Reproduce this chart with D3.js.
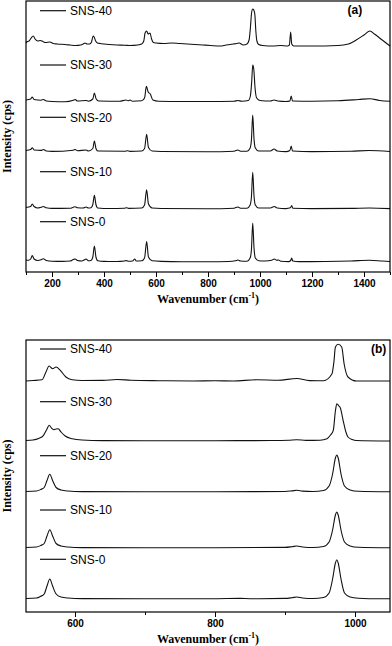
<!DOCTYPE html>
<html>
<head>
<meta charset="utf-8">
<script src="https://cdnjs.cloudflare.com/ajax/libs/d3/7.8.5/d3.min.js"></script>
<style>
	body { margin: 0; background: #fff; }
	svg { display: block; }
	.tick text { font-family: "Liberation Sans", Arial, sans-serif; font-weight: bold; font-size: 10px; fill: #000; }
	.tick line, .domain { stroke: #000; }
</style>
</head>
<body>
<div id="chart"></div>
<script>
//Dados
var labels = ["SNS-0", "SNS-10", "SNS-20", "SNS-30", "SNS-40"];

//Painel (a): offsets empilhados (mesma unidade da intensidade)
var offsetsA = [10, 63, 120, 170, 226];
var ticksA = [200, 400, 600, 800, 1000, 1200, 1400];
var minorA = [100, 300, 500, 700, 900, 1100, 1300, 1500];

var a_sns0 = [[100,2],[110,1.8],[118,3],[124,6.5],[131,3],[145,1.5],[158,2.2],[167,3.2],[178,1.5],[200,0.8],[240,0.6],[270,1],[282,2.5],[289,3],[298,1.5],[315,1],[325,2.2],[331,3],[340,1.3],[350,1.5],[357,5],[363,16],[369,5],[376,1.2],[400,0.6],[450,0.5],[478,1],[486,1.4],[495,0.8],[510,1],[518,3],[524,1],[545,1.2],[556,4],[564,20.5],[571,5],[585,1.2],[620,0.6],[700,0.3],[800,0.3],[880,0.5],[905,1.2],[915,2],[925,1],[950,0.8],[962,4],[967,12],[972,39],[977,14],[982,4],[995,1.2],[1020,1],[1045,1.8],[1055,3],[1064,1.8],[1071,2],[1080,0.8],[1110,0.4],[1118,1.5],[1122,4],[1126,1],[1150,0.4],[1250,0.5],[1350,1],[1420,1.8],[1470,1],[1500,0.5]];
var a_sns10 = [[100,1.5],[118,2.5],[124,5],[131,2.5],[145,1],[158,1.8],[167,2.5],[178,1.2],[200,0.6],[270,0.8],[282,1.8],[289,2.2],[298,1.2],[320,1],[331,2],[340,1],[350,1.2],[357,4.5],[363,13.7],[369,4.5],[376,1],[420,0.5],[478,0.8],[486,1.2],[495,0.6],[545,1],[556,4],[564,19.3],[571,5],[585,1],[620,0.5],[800,0.3],[900,0.8],[915,2],[925,0.8],[950,0.7],[962,4],[967,12],[972,36.7],[977,13],[982,4],[995,1],[1040,1],[1055,2.5],[1066,1],[1100,0.4],[1117,1.2],[1122,3.5],[1126,0.8],[1200,0.4],[1350,0.6],[1420,1],[1500,0.4]];
var a_sns20 = [[100,1.5],[118,2.5],[124,4.3],[131,2],[158,1.6],[167,2.5],[178,1],[200,0.6],[282,1.8],[289,2.5],[298,1.2],[331,2],[340,1],[357,3.5],[363,11],[369,3.5],[376,1],[480,0.8],[490,1.2],[500,0.6],[545,1],[556,3.5],[564,17.7],[571,4.5],[585,1],[620,0.5],[800,0.3],[900,0.8],[915,2],[925,0.8],[950,0.7],[962,4],[967,12],[972,37],[977,13],[982,4],[995,1],[1040,1],[1054,3],[1066,1],[1100,0.4],[1115,1.5],[1120,6],[1125,1],[1200,0.4],[1350,0.8],[1420,1.5],[1500,0.5]];
var a_sns30 = [[100,2],[118,3],[124,5],[131,2.5],[158,1.8],[167,2.5],[178,1],[200,0.5],[250,0.3],[282,1.8],[289,2.5],[298,1],[331,1.5],[340,0.8],[357,3],[363,9],[370,3],[380,1],[460,0.8],[485,2],[492,1.2],[500,2],[510,0.8],[545,1.2],[556,4],[563,15.7],[570,10],[578,8],[588,2],[610,0.8],[700,0.5],[800,0.5],[900,0.8],[915,1.5],[930,0.8],[955,1.5],[963,6],[968,20],[972,37],[976,33],[981,14],[987,4],[1000,1.5],[1040,1],[1054,2],[1068,1],[1100,0.5],[1115,1],[1120,6],[1125,1],[1200,0.8],[1300,1.2],[1380,2.5],[1423,3.3],[1460,1.5],[1500,0.8]];
var a_sns40 = [[100,3],[105,4.5],[112,5],[120,8],[128,10],[135,7],[145,5],[155,5.5],[165,4.5],[175,3.5],[192,4],[205,2.5],[220,2],[250,1.5],[270,1],[290,0.5],[310,1],[320,2],[327,3],[335,2],[345,2],[352,4],[358,10],[362,9],[368,5],[375,3],[385,2.5],[400,2],[420,1.5],[450,1],[480,0.8],[500,0.5],[530,1],[545,2],[553,5],[558,13],[564,15],[570,12],[577,13],[583,7],[590,3.5],[600,3],[630,2.5],[660,3],[690,2.5],[720,2],[750,1.5],[780,1],[810,0.5],[846,0],[870,1],[897,2],[910,2.5],[920,3],[935,1],[950,2],[958,6],[963,18],[968,34],[972,37],[976,36],[980,32],[984,15],[988,5],[995,1.5],[1010,0.5],[1050,0],[1080,0.5],[1105,0],[1113,1],[1118,14],[1122,2],[1130,0],[1200,0],[1300,0.5],[1340,2],[1370,6],[1400,11],[1423,15],[1440,12],[1470,6],[1500,0]];

//Painel (b)
var offsetsB = [13, 64, 120, 171, 231];
var ticksB = [600, 800, 1000];
var minorB = [700, 900];

var b_sns0 = [[530,0.5],[545,1],[551,2.7],[556,5],[560,13],[564,20],[568,13],[573,5],[580,2],[590,1],[610,0.4],[700,0.2],[800,0.3],[836,0.6],[850,0.3],[900,0.6],[910,1.3],[917,2],[925,1],[940,0.5],[955,1.5],[963,6],[968,20],[972,36],[974,39.3],[976,36],[980,20],[985,6],[993,2],[1005,0.7],[1020,0.3],[1050,0.2]];
var b_sns10 = [[530,0.5],[545,1],[551,2.5],[556,4.5],[560,12],[564,18.3],[568,12],[573,4.5],[580,2],[590,1],[610,0.4],[700,0.2],[800,0.3],[900,0.6],[910,1.3],[917,2],[925,1],[940,0.5],[955,1.5],[963,6],[968,18],[972,33],[974,36],[976,33],[980,18],[985,6],[993,2],[1005,0.7],[1050,0.2]];
var b_sns20 = [[530,0.5],[545,1],[551,2.5],[556,4.5],[560,11.5],[564,17.7],[568,11.5],[573,4.5],[580,2],[590,1],[610,0.4],[700,0.2],[800,0.3],[900,0.5],[910,1.1],[917,1.7],[925,0.9],[940,0.5],[955,1.5],[963,6],[968,18],[972,34],[974,37],[976,34],[980,18],[985,6],[993,2],[1005,0.7],[1050,0.2]];
var b_sns30 = [[530,0.5],[540,1],[548,2.5],[555,5.7],[560,12],[563,15.7],[567,12.5],[570,11.3],[573,12],[576,12.3],[580,9],[586,5],[596,2.3],[610,1],[640,0.4],[700,0.3],[800,0.3],[880,0.5],[905,0.8],[917,1.3],[930,0.6],[950,0.8],[960,2.3],[965,6],[969,10.7],[972,30],[974,37.3],[977,35],[979,33.3],[983,20.7],[987,9],[990,4],[996,1.5],[1002,0.5],[1050,0]];
var b_sns40 = [[530,0],[540,0.5],[553,1.3],[558.5,9],[563,15],[568,12.3],[573,14],[579,10.7],[587,4],[596,1.3],[610,0.5],[640,0.6],[660,1.5],[680,0.8],[720,0.3],[769,0],[800,0.3],[826,0],[860,1.2],[890,0.8],[917,2.5],[935,0.4],[955,0.3],[967,7],[970,20],[972,34],[976,36.7],[981,34],[984.5,17],[990,4],[1002,0],[1050,0]];

var spectraA = [a_sns0, a_sns10, a_sns20, a_sns30, a_sns40];
var spectraB = [b_sns0, b_sns10, b_sns20, b_sns30, b_sns40];

(function () {
	'use strict';
	var W = 392, H = 646;
	var svg = d3.select("#chart").append("svg")
		.attr("width", W)
		.attr("height", H);

	//Desenha um painel
	function panel(cfg) {
		var x = d3.scaleLinear().domain(cfg.xdom).range([cfg.left, cfg.right]);
		var y = d3.scaleLinear().domain(cfg.ydom).range([cfg.bottom, cfg.top]);
		var g = svg.append("g");

		//Eixo x: ticks maiores e menores
		g.append("g")
			.attr("transform", "translate(0," + cfg.bottom + ")")
			.call(d3.axisBottom(x).tickValues(cfg.minor).tickSize(3).tickFormat(""))
			.call(function (s) { s.select(".domain").remove(); });
		g.append("g")
			.attr("transform", "translate(0," + cfg.bottom + ")")
			.call(d3.axisBottom(x).tickValues(cfg.ticks).tickSize(5).tickPadding(3).tickFormat(d3.format("d")))
			.call(function (s) { s.select(".domain").remove(); });

		//Linhas
		var line = d3.line()
			.x(function (d) { return x(d[0]); })
			.y(function (d) { return y(d[1] + d.off); })
			.curve(d3.curveMonotoneX);
		cfg.spectra.forEach(function (s, i) {
			var pts = s.map(function (d) { var p = [d[0], d[1]]; p.off = cfg.offsets[i]; return p; });
			g.append("path")
				.attr("fill", "none")
				.attr("stroke", "#111")
				.attr("stroke-width", 1.1)
				.attr("stroke-linejoin", "round")
				.attr("d", line(pts));
		});

		//Legendas
		cfg.legendY.forEach(function (ly, i) {
			g.append("line")
				.attr("x1", 40).attr("x2", 66)
				.attr("y1", ly).attr("y2", ly)
				.attr("stroke", "#111").attr("stroke-width", 1.2);
			g.append("text")
				.attr("x", 70).attr("y", ly + 4.3)
				.style("font-family", "'Liberation Sans', Arial, sans-serif")
				.style("font-size", "12px")
				.text(labels[i]);
		});

		//Moldura
		g.append("rect")
			.attr("x", cfg.left).attr("y", cfg.top)
			.attr("width", cfg.right - cfg.left)
			.attr("height", cfg.bottom - cfg.top)
			.attr("fill", "none")
			.attr("stroke", "#000")
			.attr("stroke-width", 1.2);

		//Rótulo (a)/(b)
		g.append("text")
			.attr("x", cfg.tagX).attr("y", cfg.tagY)
			.style("font-family", "'Liberation Sans', Arial, sans-serif")
			.style("font-weight", "bold")
			.style("font-size", "12px")
			.text(cfg.tag);

		//Títulos dos eixos
		var xt = g.append("text")
			.attr("x", (cfg.left + cfg.right) / 2)
			.attr("y", cfg.bottom + 31)
			.attr("text-anchor", "middle")
			.style("font-family", "'Liberation Serif', 'Times New Roman', serif")
			.style("font-weight", "bold")
			.style("font-size", "12px");
		xt.append("tspan").text("Wavenumber (cm");
		xt.append("tspan").attr("dy", -5).style("font-size", "8px").text("-1");
		xt.append("tspan").attr("dy", 5).text(")");

		g.append("text")
			.attr("transform", "translate(11," + ((cfg.top + cfg.bottom) / 2) + ") rotate(-90)")
			.attr("text-anchor", "middle")
			.style("font-family", "'Liberation Serif', 'Times New Roman', serif")
			.style("font-weight", "bold")
			.style("font-size", "12px")
			.text("Intensity (cps)");
	}

	panel({
		xdom: [100, 1500], ydom: [0, 271],
		left: 26, right: 390, top: 1, bottom: 272,
		ticks: ticksA, minor: minorA,
		spectra: spectraA, offsets: offsetsA,
		legendY: [221.7, 171.7, 117.3, 65, 10.7],
		tag: "(a)", tagX: 347.5, tagY: 14
	});
	panel({
		xdom: [530, 1050], ydom: [0, 272],
		left: 26, right: 390, top: 340, bottom: 612,
		ticks: ticksB, minor: minorB,
		spectra: spectraB, offsets: offsetsB,
		legendY: [559.3, 510, 455.7, 401.7, 349],
		tag: "(b)", tagX: 371, tagY: 353
	});
}());
</script>
</body>
</html>
